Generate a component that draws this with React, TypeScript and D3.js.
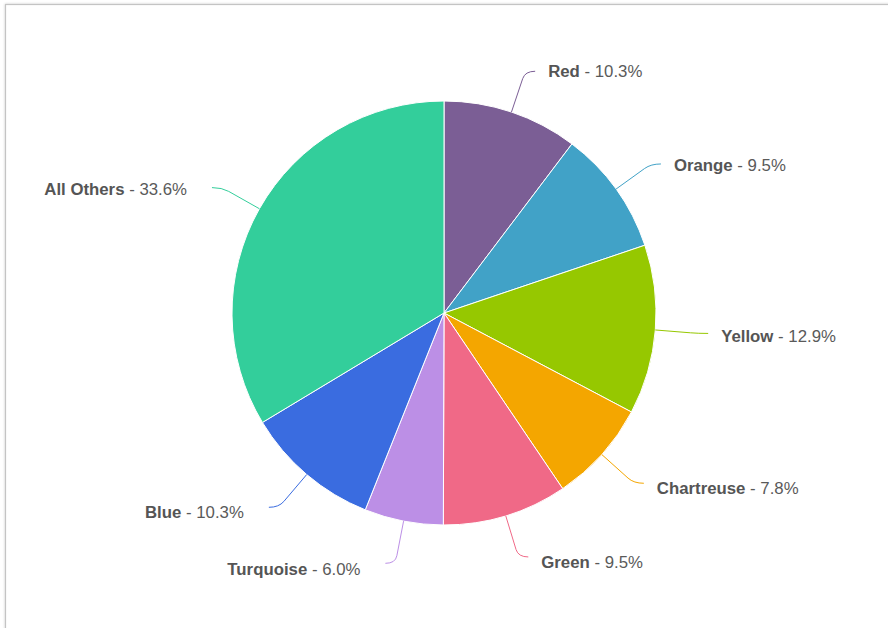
import React from "react";
import * as d3 from "d3";

const categories = ["Red", "Orange", "Yellow", "Chartreuse", "Green", "Turquoise", "Blue", "All Others"];
const values = [10.3, 9.5, 12.9, 7.8, 9.5, 6.0, 10.3, 33.6];
const colors = ["#7b5e95", "#41a2c7", "#96c800", "#f4a600", "#f06987", "#bc8fe6", "#3a6ce0", "#33ce9b"];

const W = 888;
const H = 628;
const cx = 444;
const cy = 313;
const R = 212;
const R2 = 255;

export default function App() {
  const data = categories.map((c, i) => ({ name: c, value: values[i], color: colors[i] }));
  const pie = d3.pie<any>().sort(null).value((d: any) => d.value).startAngle(0).endAngle(2 * Math.PI);
  const arcs = pie(data);
  const arc = d3.arc<any>().innerRadius(0).outerRadius(R);

  return (
    <svg width={W} height={H} style={{ position: "absolute", left: 0, top: 0, background: "#fff" }}
      fontFamily="'Liberation Sans', Arial, Helvetica, sans-serif">
      <defs>
        <filter id="sh" x="-5%" y="-5%" width="110%" height="110%">
          <feDropShadow dx="0" dy="0" stdDeviation="1.2" floodColor="#000" floodOpacity="0.25" />
        </filter>
      </defs>
      <rect x={5.5} y={4.5} width={W + 20} height={H + 20} fill="#fff" stroke="#c4c4c4" strokeWidth={1.2} filter="url(#sh)" />
      <g transform={`translate(${cx},${cy})`}>
        {arcs.map((a, i) => (
          <path key={i} d={arc(a) as string} fill={a.data.color} stroke="#fff" strokeWidth={1} />
        ))}
        {arcs.map((a, i) => {
          const m = (a.startAngle + a.endAngle) / 2;
          const sx = Math.sin(m), sy = -Math.cos(m);
          const sign = sx >= 0 ? 1 : -1;
          const tx = R * sx, ty = R * sy;
          const ex = R2 * sx, ey = R2 * sy;
          const px = tx + (ex - tx) * 0.82, py = ty + (ey - ty) * 0.82;
          const endX = ex + sign * 10;
          const path = `M${tx},${ty}L${px},${py}Q${ex},${ey} ${endX},${ey}`;
          const textX = sign > 0 ? ex + 23 : ex - 35;
          const textY = ey + 2.5 + 3 * sy;
          return (
            <g key={"l" + i}>
              <path d={path} fill="none" stroke={a.data.color} strokeWidth={1} />
              <text x={textX} y={textY} dy="0.35em" textAnchor={sign > 0 ? "start" : "end"}
                fontSize={16.8} fill="#5a5a5a">
                <tspan fontWeight="bold" fill="#555">{a.data.name}</tspan>
                <tspan>{` - ${a.data.value.toFixed(1)}%`}</tspan>
              </text>
            </g>
          );
        })}
      </g>
    </svg>
  );
}
